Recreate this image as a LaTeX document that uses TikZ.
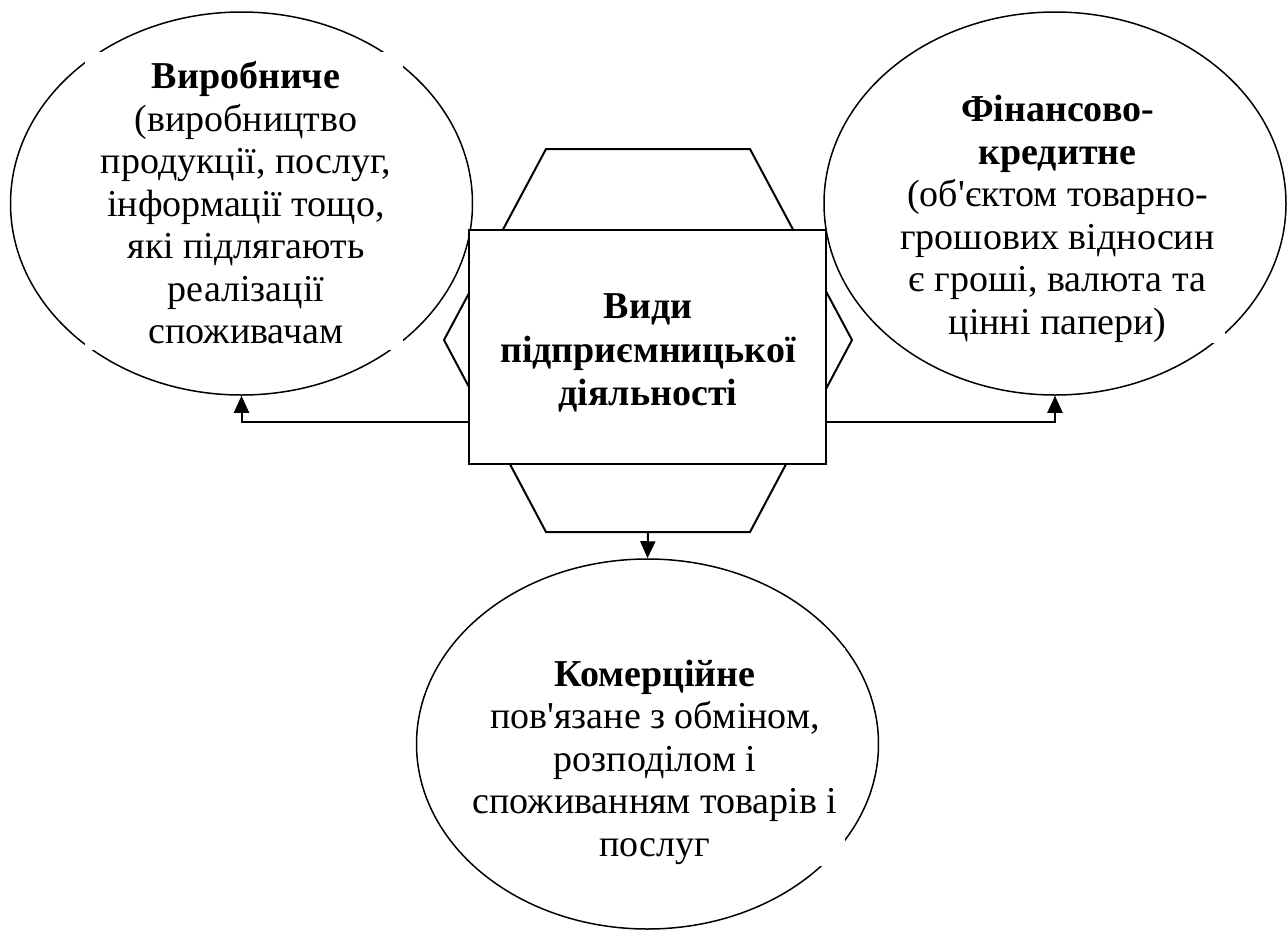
\documentclass[tikz,border=0pt]{standalone}
\usepackage{fontspec}
\setmainfont{Liberation Serif}
\usetikzlibrary{shapes.geometric,arrows.meta}
\begin{document}
\begin{tikzpicture}[x=0.5pt,y=-0.5pt,
  oval/.style={draw, ellipse, line width=0.75pt, inner sep=0pt,
    minimum width=231pt, minimum height=191.5pt},
  gapbox/.style={fill=white, inner sep=0pt},
  ovaltext/.style={align=center, inner sep=0pt,
    font=\fontsize{19pt}{21.25pt}\selectfont},
  hexline/.style={line width=1pt, line join=miter},
  centerbox/.style={draw, fill=white, line width=1pt, inner sep=0pt,
    minimum width=178.5pt, minimum height=117pt},
  centertext/.style={align=center, inner sep=0pt,
    font=\fontsize{19pt}{21.75pt}\selectfont\bfseries},
  link/.style={line width=1pt, -{Triangle[length=8.5pt,width=7.5pt]}}]
\useasboundingbox (0,0) rectangle (1287,933);
% ellipses
\node[oval] (L) at (241.5,203.5) {};
\node[oval] (R) at (1055,203.5) {};
\node[oval, minimum height=185pt] (B) at (647.5,744) {};
% white text areas (they cut the ellipse outlines)
\node[gapbox, minimum width=159pt, minimum height=149pt] (Lg) at (244,201) {};
\node[gapbox, minimum width=164pt, minimum height=126.5pt] (Rg) at (1061,216.5) {};
\node[gapbox, minimum width=184pt, minimum height=109pt] (Bg) at (661,757) {};
% texts
\node[ovaltext] (Lt) at (246,203)
  {\textbf{Виробниче}\\(виробництво\\продукції, послуг,\\інформації тощо,\\які підлягають\\реалізації\\споживачам};
\node[ovaltext] (Rt) at (1057.5,219)
  {\textbf{Фінансово-}\\\textbf{кредитне}\\(об\textquotesingle єктом товарно-\\грошових відносин\\є гроші, валюта та\\цінні папери)};
\node[ovaltext] (Bt) at (655,762)
  {\textbf{Комерційне}\\пов\textquotesingle язане з обміном,\\розподілом і\\споживанням товарів і\\послуг};
% hexagon
\coordinate (H1) at (546,149);
\coordinate (H2) at (750,149);
\coordinate (H3) at (852,340);
\coordinate (H4) at (750,532);
\coordinate (H5) at (546,532);
\coordinate (H6) at (444,340);
\coordinate (Hb) at (648,532);
\draw[hexline] (H1) -- (H2) -- (H3) -- (H4) -- (H5) -- (H6) -- cycle;
% central rectangle
\node[centerbox] (C) at (647.5,347) {};
\node[centertext] (Ct) at (648,353) {Види\\підприємницької\\діяльності};
% connectors
\coordinate (Cl) at (C.west |- 0,422);
\coordinate (Cr) at (C.east |- 0,422);
\draw[link] (Cl) -| (L.south);
\draw[link] (Cr) -| (R.south);
\draw[link] (Hb) -- (B.north);
\end{tikzpicture}
\end{document}
